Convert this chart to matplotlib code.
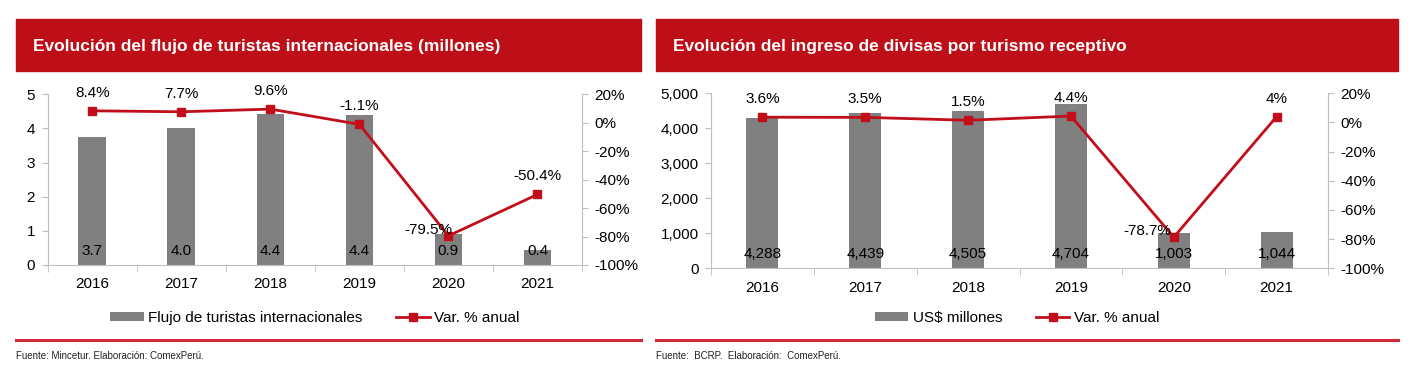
import matplotlib
matplotlib.use("Agg")
import matplotlib.pyplot as plt
from matplotlib.patches import Rectangle, Patch
from matplotlib.lines import Line2D
import numpy as np

plt.rcParams['font.family'] = ['Liberation Sans', 'DejaVu Sans']

years = ['2016', '2017', '2018', '2019', '2020', '2021']
tourists = [3.74, 4.02, 4.42, 4.38, 0.90, 0.44]
tourists_var = [8.4, 7.7, 9.6, -1.1, -79.5, -50.4]
income = [4288, 4439, 4505, 4704, 1003, 1044]
income_var = [3.6, 3.5, 1.5, 4.4, -78.7, 4.0]

title_left = 'Evolución del flujo de turistas internacionales (millones)'
title_right = 'Evolución del ingreso de divisas por turismo receptivo'
legend_bar_left = 'Flujo de turistas internacionales'
legend_bar_right = 'US$ millones'
legend_line = 'Var. % anual'
source_left = 'Fuente: Mincetur. Elaboración: ComexPerú.'
source_right = 'Fuente:  BCRP.  Elaboración:  ComexPerú.'

W, H = 1413, 369
HEADER_RED = '#BE0F19'
LINE_RED = '#C20E1A'
BAR_GRAY = '#808080'
SPINE = '#BFBFBF'

fig = plt.figure(figsize=(W / 100, H / 100), dpi=100)


def fx(px):
    return px / W


def fy(py):
    return 1 - py / H


def axes_rect(x0, x1, ytop, ybot):
    return [fx(x0), fy(ybot), fx(x1) - fx(x0), fy(ytop) - fy(ybot)]


def panel(x0, x1, ax_rect, title, bars, var, ylim, yticks, yfmt, bar_label_fmt,
          legend_bar, legend_x, source, neg_label_dx):
    # header
    fig.patches.append(Rectangle((fx(x0), fy(71)), fx(x1) - fx(x0), fy(19) - fy(71),
                                 transform=fig.transFigure, color=HEADER_RED, zorder=0))
    fig.text(fx(x0 + 17), fy(46), title, color='white', fontsize=12.5, fontweight='bold',
             va='center', ha='left')
    # separator line
    fig.add_artist(Line2D([fx(x0), fx(x1)], [fy(340), fy(340)], color='#D02A36', lw=2.2,
                          transform=fig.transFigure))
    fig.text(fx(x0), fy(356), source, fontsize=7, color='#222222', va='center', ha='left')

    ax = fig.add_axes(axes_rect(*ax_rect))
    x = np.arange(len(years))
    ax.bar(x, bars, width=0.31, color=BAR_GRAY, zorder=2)
    ax.set_xlim(-0.5, len(years) - 0.5)
    ax.set_ylim(*ylim)
    ax.set_yticks(yticks)
    ax.set_yticklabels([yfmt(v) for v in yticks])
    ax.set_xticks(x)
    ax.set_xticklabels(years)
    ax.set_xticks(np.arange(-0.5, len(years)), minor=True)
    ax.tick_params(axis='x', which='major', length=0, pad=9, labelsize=11)
    ax.tick_params(axis='x', which='minor', length=5, color=SPINE, direction='out')
    ax.tick_params(axis='y', length=4, color=SPINE, labelsize=11, pad=5)
    for s in ['top', 'right']:
        ax.spines[s].set_visible(False)
    for s in ['left', 'bottom']:
        ax.spines[s].set_color(SPINE)
    for xi, v in zip(x, bars):
        ax.annotate(bar_label_fmt(v), (xi, 0), xytext=(0, 14), textcoords='offset pixels',
                    ha='center', va='center', fontsize=11, zorder=5)

    ax2 = ax.twinx()
    ax2.plot(x, var, color=LINE_RED, lw=2, marker='s', markersize=5.5, zorder=4)
    ax2.set_ylim(-100, 20)
    pt = [20, 0, -20, -40, -60, -80, -100]
    ax2.set_yticks(pt)
    ax2.set_yticklabels([f'{v}%' for v in pt])
    ax2.tick_params(axis='y', length=4, color=SPINE, labelsize=11, pad=5)
    for s in ['top', 'left', 'bottom']:
        ax2.spines[s].set_visible(False)
    ax2.spines['right'].set_color(SPINE)
    for xi, v in zip(x, var):
        lab = f'{v:g}%'
        if v < -70:
            ax2.annotate(lab, (xi, v), xytext=(neg_label_dx, 6), textcoords='offset pixels',
                         ha='right', va='center', fontsize=11, zorder=6)
        else:
            ax2.annotate(lab, (xi, v), xytext=(0, 18), textcoords='offset pixels',
                         ha='center', va='center', fontsize=11, zorder=6)

    handles = [Patch(facecolor=BAR_GRAY, edgecolor='none'),
               Line2D([0], [0], color=LINE_RED, lw=2, marker='s', markersize=5.5)]
    fig.legend(handles, [legend_bar, legend_line], loc='center',
               bbox_to_anchor=(fx(legend_x), fy(318)), ncol=2, frameon=False,
               fontsize=11, handlelength=2.2, handleheight=0.6, handletextpad=0.3,
               columnspacing=2.2)
    return ax, ax2


panel(16, 641, (47.7, 582, 94.3, 265), title_left, tourists, tourists_var,
      (0, 5), [0, 1, 2, 3, 4, 5], lambda v: f'{v:g}', lambda v: f'{v:.1f}',
      legend_bar_left, 315, source_left, 4)

panel(656, 1398, (711, 1328, 93.3, 268.3), title_right, income, income_var,
      (0, 5000), [0, 1000, 2000, 3000, 4000, 5000], lambda v: f'{v:,.0f}',
      lambda v: f'{v:,.0f}', legend_bar_right, 1017, source_right, -3)

fig.savefig('out.png', dpi=100)
